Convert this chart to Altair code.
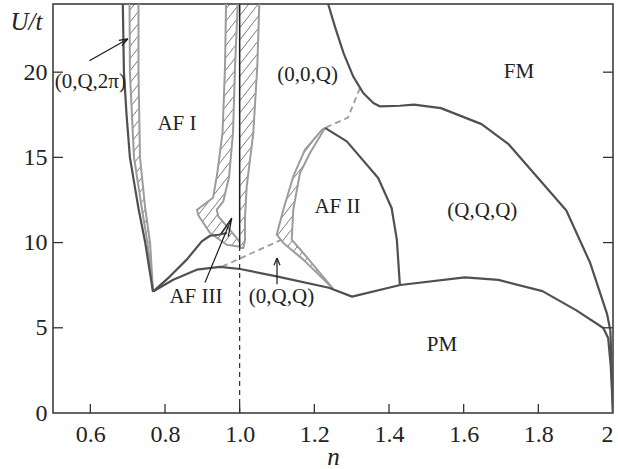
import altair as alt
import numpy as np
import pandas as pd

# plot area size and axis ranges
W, H = 560, 409
N_MIN, N_MAX = 0.5, 2.0
U_MIN, U_MAX = 0.0, 24.0
SERIF = "Liberation Serif"
INK = "#222222"
DARK = "#505050"
GRAY = "#9c9c9c"

# ---- tick values ----
x_ticks = [0.6, 0.8, 1.0, 1.2, 1.4, 1.6, 1.8, 2.0]
y_ticks = [0, 5, 10, 15, 20]

# ---- phase boundaries (n, U/t) ----
afi_left_n = [0.687, 0.690, 0.697, 0.706, 0.729, 0.747, 0.768]
afi_left_u = [24, 20, 17.5, 15, 12, 10, 7.1]

# (0,Q,2pi) coexistence strip
q2pi_a_n = [0.705, 0.706, 0.717, 0.738, 0.753, 0.768]
q2pi_a_u = [24, 20, 15, 12, 10, 7.1]
q2pi_b_n = [0.729, 0.729, 0.733, 0.747, 0.760, 0.768]
q2pi_b_u = [24, 20, 15, 12, 10, 7.1]

# AF I lower boundary
afi_low_n = [0.769, 0.8135, 0.8582, 0.8984, 0.9206, 0.9428, 0.9661]
afi_low_u = [7.14, 8.02, 9.0, 10.07, 10.4, 10.46, 10.56]

# PM boundary
pm_n = [0.769, 0.822, 0.885, 0.947, 1.001, 1.099, 1.239, 1.301, 1.430,
        1.603, 1.693, 1.811, 1.902, 1.974, 1.987, 1.994, 2.0]
pm_u = [7.14, 7.82, 8.41, 8.57, 8.45, 8.02, 7.35, 6.83, 7.51,
        7.96, 7.81, 7.15, 6.02, 4.99, 4.40, 2.73, 0]

# (0,0,Q) / FM / (Q,Q,Q) boundary
fm_n = [1.237, 1.255, 1.278, 1.304, 1.331, 1.358, 1.376, 1.429, 1.467, 1.539,
        1.648, 1.721, 1.784, 1.875, 1.939, 1.984, 1.993, 1.996, 2.0]
fm_u = [24, 22.69, 21.13, 19.75, 18.78, 18.19, 17.99, 18.03, 18.09, 17.89,
        16.95, 15.76, 14.17, 11.88, 8.80, 5.82, 4.82, 2.83, 0]

# AF II / (Q,Q,Q) boundary
af2_n = [1.2285, 1.287, 1.371, 1.407, 1.421, 1.429]
af2_u = [16.73, 15.94, 13.79, 12.03, 10.17, 7.55]

# AF II coexistence band
af2_out_n = [1.2285, 1.2197, 1.175, 1.1436, 1.1169, 1.0992, 1.1169, 1.1704, 1.25]
af2_out_u = [16.73, 16.6, 15.45, 13.88, 11.93, 10.46, 9.98, 9.0, 7.3]
af2_in_n = [1.2285, 1.1884, 1.1616, 1.1436, 1.1394, 1.1704, 1.25]
af2_in_u = [16.73, 15.26, 14.08, 11.93, 10.17, 9.39, 7.3]

# AF III coexistence band, left of n = 1
af3_out_n = [0.9635, 0.9608, 0.9541, 0.9394, 0.9287, 0.8858, 0.8893, 0.9206, 0.9653, 1.001]
af3_out_u = [24, 20.34, 16.45, 13.98, 12.63, 11.93, 11.6, 10.56, 9.87, 9.76]
af3_in_n = [0.9948, 0.9876, 0.9822, 0.9715, 0.9562, 0.9386, 0.9428, 0.9688, 0.9956, 1.001]
af3_in_u = [24, 20.34, 16.45, 13.84, 12.42, 11.93, 11.54, 10.87, 10.17, 10.05]

# band right of n = 1
r_band_n = [1.0526, 1.0472, 1.0365, 1.0189, 1.0143, 1.0143, 1.0098, 1.001]
r_band_u = [24, 20.34, 16.43, 13.3, 11.54, 10.17, 9.68, 9.68]

# half filling line
half_n = [1.0, 1.0]
half_solid_u = [24, 9.7]
half_dash_u = [0, 9.7]

# dashed (estimated) boundaries
dash1_n = [1.3222, 1.290, 1.2285]
dash1_u = [19.07, 17.33, 16.73]
dash2_n = [0.9528, 1.1125]
dash2_u = [8.59, 10.17]

# ---- region labels ----
label_text = ["(0,Q,2π)", "AF I", "(0,0,Q)", "FM", "AF II", "(Q,Q,Q)", "AF III", "(0,Q,Q)", "PM"]
label_n = [0.600, 0.832, 1.182, 1.748, 1.262, 1.650, 0.883, 1.112, 1.542]
label_u = [19.45, 16.98, 19.85, 20.03, 12.08, 11.84, 6.83, 6.83, 4.01]

# ---- arrows: tail -> tip ----
arrow_tail_n = [0.5975, 0.907, 1.100]
arrow_tail_u = [20.67, 7.65, 7.55]
arrow_tip_n = [0.7003, 0.9787, 1.100]
arrow_tip_u = [21.95, 11.44, 9.1]
arrow_head_len = [9, 19, 8]
arrow_head_ang = [20, 12, 22]

SX = W / (N_MAX - N_MIN)
SY = H / (U_MAX - U_MIN)


def to_px(n, u):
    return (np.asarray(n, float) - N_MIN) * SX, (np.asarray(u, float) - U_MIN) * SY


def to_data(px, py):
    return px / SX + N_MIN, py / SY + U_MIN


def hatch(poly_n, poly_u, spacing=7.5, angle_deg=52.0):
    """Diagonal hatch segments clipped to a polygon (computed in screen units)."""
    px, py = to_px(poly_n, poly_u)
    a = np.radians(angle_deg)
    d = np.array([np.cos(a), np.sin(a)])
    nv = np.array([-np.sin(a), np.cos(a)])
    s = px * nv[0] + py * nv[1]
    t = px * d[0] + py * d[1]
    m = len(px)
    rows = []
    for k in range(int(np.ceil(s.min() / spacing)), int(np.floor(s.max() / spacing)) + 1):
        lvl = k * spacing
        hits = []
        for i in range(m):
            j = (i + 1) % m
            s1, s2 = s[i], s[j]
            if (s1 <= lvl < s2) or (s2 <= lvl < s1):
                f = (lvl - s1) / (s2 - s1)
                hits.append(t[i] + f * (t[j] - t[i]))
        hits.sort()
        for h0, h1 in zip(hits[0::2], hits[1::2]):
            p0 = h0 * d + lvl * nv
            p1 = h1 * d + lvl * nv
            n0, u0 = to_data(p0[0], p0[1])
            n1, u1 = to_data(p1[0], p1[1])
            rows.append({"n": n0, "u": u0, "n2": n1, "u2": u1})
    return rows


def arrow_rows():
    rows = []
    for tn, tu, hn, hu, L, ang in zip(arrow_tail_n, arrow_tail_u, arrow_tip_n,
                                      arrow_tip_u, arrow_head_len, arrow_head_ang):
        tx, ty = to_px(tn, tu)
        hx, hy = to_px(hn, hu)
        rows.append({"n": tn, "u": tu, "n2": hn, "u2": hu})
        back = np.array([tx - hx, ty - hy])
        back = back / np.hypot(*back)
        for sgn in (1, -1):
            r = np.radians(sgn * ang)
            v = np.array([back[0] * np.cos(r) - back[1] * np.sin(r),
                          back[0] * np.sin(r) + back[1] * np.cos(r)])
            bx, by = hx + L * v[0], hy + L * v[1]
            bn, bu = to_data(bx, by)
            rows.append({"n": hn, "u": hu, "n2": bn, "u2": bu})
    return rows


x_axis = alt.Axis(values=x_ticks, labelExpr="datum.value == 2 ? '2' : format(datum.value, '.1f')",
                  ticks=False, domain=False, grid=False, labelFont=SERIF, labelFontSize=24,
                  labelColor=INK, labelPadding=9, title="n", titleFont=SERIF,
                  titleFontStyle="italic", titleFontWeight="normal", titleFontSize=25,
                  titleColor=INK, titleBaseline="alphabetic", titleY=51)
y_axis = alt.Axis(values=y_ticks, ticks=False, domain=False, grid=False, labelFont=SERIF,
                  labelFontSize=24, labelColor=INK, labelPadding=6, title="U/t",
                  titleFont=SERIF, titleFontStyle="italic", titleFontWeight="normal",
                  titleFontSize=25, titleColor=INK, titleAngle=0, titleAlign="center",
                  titleBaseline="alphabetic", titleX=-27, titleY=25)
x_scale = alt.Scale(domain=[N_MIN, N_MAX], nice=False, zero=False)
y_scale = alt.Scale(domain=[U_MIN, U_MAX], nice=False, zero=False)


def X(f):
    return alt.X(f"{f}:Q", scale=x_scale, axis=x_axis)


def Y(f):
    return alt.Y(f"{f}:Q", scale=y_scale, axis=y_axis)


def line_layer(curves, color, width, dash=None):
    rows = []
    for name, (ns, us) in curves.items():
        for i, (a, b) in enumerate(zip(ns, us)):
            rows.append({"curve": name, "i": i, "n": a, "u": b})
    kw = dict(color=color, strokeWidth=width, clip=True, strokeJoin="round")
    if dash:
        kw["strokeDash"] = dash
    return alt.Chart(pd.DataFrame(rows)).mark_line(**kw).encode(
        x=X("n"), y=Y("u"), detail="curve:N", order="i:Q")


def seg_layer(rows, color, width):
    return alt.Chart(pd.DataFrame(rows)).mark_rule(color=color, strokeWidth=width, clip=True).encode(
        x=X("n"), y=Y("u"), x2="n2:Q", y2="u2:Q")


hatch_rows = []
hatch_rows += hatch(q2pi_a_n + q2pi_b_n[::-1], q2pi_a_u + q2pi_b_u[::-1])
hatch_rows += hatch(af3_out_n + af3_in_n[::-1], af3_out_u + af3_in_u[::-1])
hatch_rows += hatch(r_band_n + [1.001, 1.001], r_band_u + [9.68, 24])
hatch_rows += hatch(af2_out_n + af2_in_n[::-1], af2_out_u + af2_in_u[::-1])

hatch_layer = seg_layer(hatch_rows, "#444444", 0.7)

gray_lines = line_layer({
    "q2pi_a": (q2pi_a_n, q2pi_a_u),
    "q2pi_b": (q2pi_b_n, q2pi_b_u),
    "af2_out": (af2_out_n, af2_out_u),
    "af2_in": (af2_in_n, af2_in_u),
    "af3_out": (af3_out_n, af3_out_u),
    "af3_in": (af3_in_n, af3_in_u),
    "r_band": (r_band_n, r_band_u),
}, GRAY, 2.0)

gray_dashed = line_layer({
    "d1": (dash1_n, dash1_u),
    "d2": (dash2_n, dash2_u),
}, GRAY, 1.8, [6, 4])

dark_lines = line_layer({
    "afi_left": (afi_left_n, afi_left_u),
    "afi_low": (afi_low_n, afi_low_u),
    "pm": (pm_n, pm_u),
    "fm": (fm_n, fm_u),
    "af2": (af2_n, af2_u),
}, DARK, 2.2)

half_line = line_layer({"h": (half_n, half_solid_u)}, "#1a1a1a", 1.5)
half_dash = line_layer({"h": (half_n, half_dash_u)}, "#1a1a1a", 1.1, [5, 4])

arrows = seg_layer(arrow_rows(), "#1a1a1a", 1.2)

labels = alt.Chart(pd.DataFrame({"n": label_n, "u": label_u, "label": label_text})).mark_text(
    font=SERIF, fontSize=21, color=INK).encode(x=X("n"), y=Y("u"), text="label:N")

tick_x = alt.Chart(pd.DataFrame({"v": x_ticks[:-1]})).mark_rule(color="#333333", strokeWidth=1.3).encode(
    x=X("v"), y=alt.value(H), y2=alt.value(H - 9))
tick_yl = alt.Chart(pd.DataFrame({"v": y_ticks[1:]})).mark_rule(color="#333333", strokeWidth=1.3).encode(
    y=Y("v"), x=alt.value(0), x2=alt.value(10))
tick_yr = alt.Chart(pd.DataFrame({"v": y_ticks[1:]})).mark_rule(color="#333333", strokeWidth=1.3).encode(
    y=Y("v"), x=alt.value(W), x2=alt.value(W - 10))

chart = alt.layer(
    hatch_layer, gray_lines, gray_dashed, dark_lines, half_dash, half_line,
    arrows, labels, tick_x, tick_yl, tick_yr,
).properties(
    width=W, height=H,
    autosize=alt.AutoSizeParams(type="none"),
    padding={"left": 53, "top": 4, "right": 5, "bottom": 56},
    background="white",
).configure_view(stroke="#333333", strokeWidth=1.5)

chart.save("out.html", embed_options={"renderer": "svg", "actions": False})
